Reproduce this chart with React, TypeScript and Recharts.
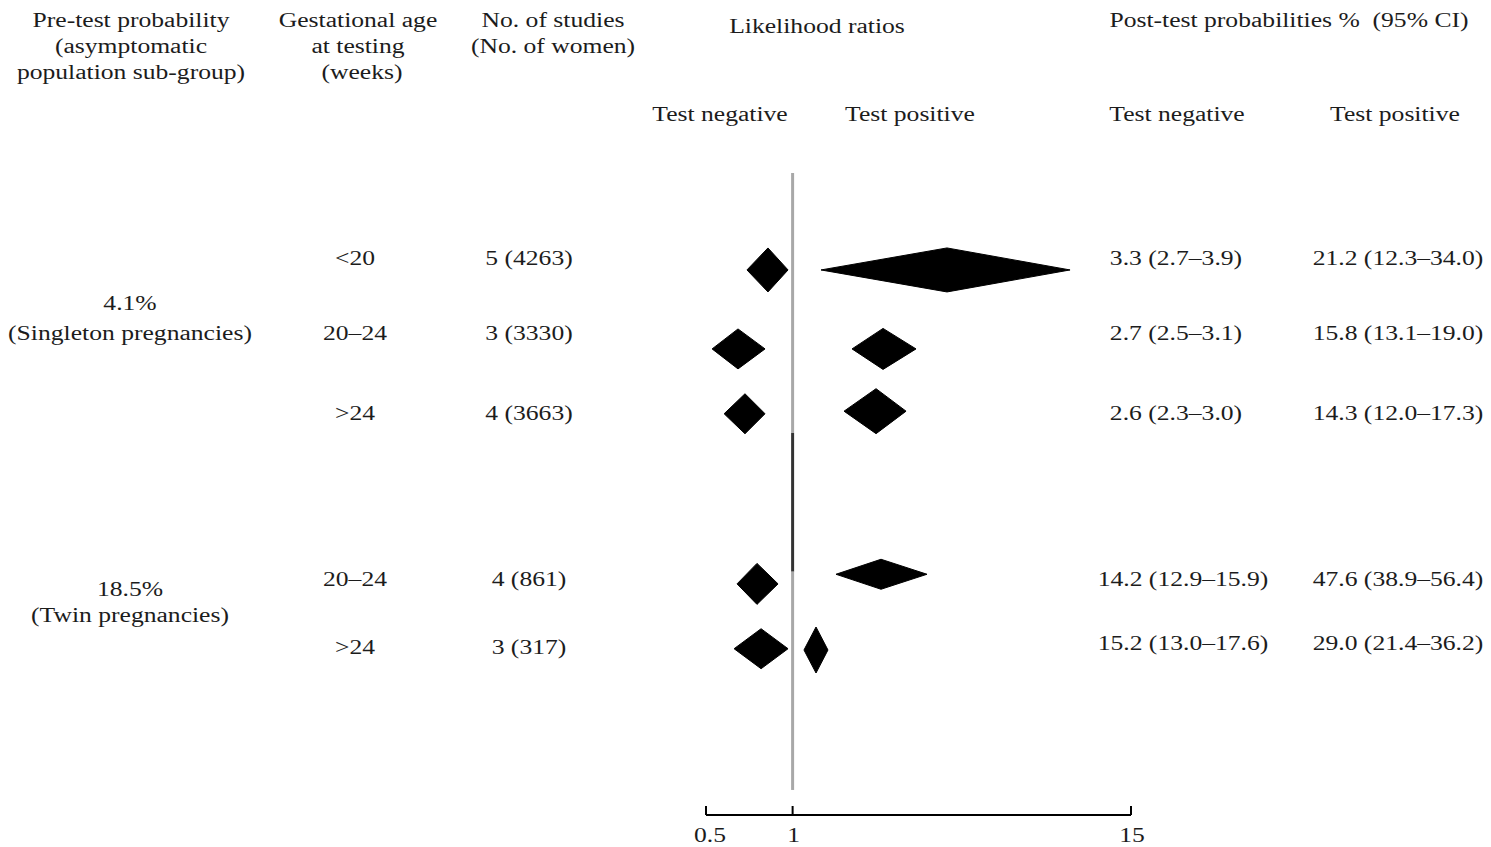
import React from 'react';
import { ScatterChart, Scatter, XAxis, YAxis, ReferenceLine } from 'recharts';

// Table columns
const preTest = ['4.1%', '18.5%'];
const preTestGroup = ['(Singleton pregnancies)', '(Twin pregnancies)'];
const gestAge = ['<20', '20–24', '>24', '20–24', '>24'];
const studies = ['5 (4263)', '3 (3330)', '4 (3663)', '4 (861)', '3 (317)'];
const postNeg = ['3.3 (2.7–3.9)', '2.7 (2.5–3.1)', '2.6 (2.3–3.0)', '14.2 (12.9–15.9)', '15.2 (13.0–17.6)'];
const postPos = ['21.2 (12.3–34.0)', '15.8 (13.1–19.0)', '14.3 (12.0–17.3)', '47.6 (38.9–56.4)', '29.0 (21.4–36.2)'];

// Likelihood ratios (estimate with lower / upper limit), read off the diamonds
const lrNegLow = [0.694, 0.525, 0.578, 0.641, 0.626];
const lrNegEst = [0.821, 0.646, 0.683, 0.752, 0.777];
const lrNegHigh = [0.964, 0.802, 0.802, 0.89, 0.964];
const lrPosLow = [1.255, 1.609, 1.509, 1.415, 1.095];
const lrPosEst = [3.44, 2.062, 1.95, 2.029, 1.206];
const lrPosHigh = [9.21, 2.685, 2.479, 2.932, 1.327];

const axisTicks = [0.5, 1, 15];

// layout: vertical slot of each diamond (0 = top of plot, 100 = axis)
const negSlot = [15.1, 27.4, 37.5, 64.0, 74.1];
const posSlot = [15.1, 27.4, 37.1, 62.5, 74.3];
const negHalfH = [22, 20, 20, 20.5, 20];
const posHalfH = [22, 20.5, 22.5, 15, 23];
const rowTextY = [258, 333, 413, 579, 647];
const postTextY = [258, 333, 413, 579, 643];

const FONT = '"Liberation Serif", "Times New Roman", serif';
const INK = '#1c1c1c';

const diamondLine = (halfH: number) => (props: any) => {
  const pts = props.points;
  if (!pts || pts.length < 3) return <g />;
  const [lo, mid, hi] = pts;
  const d = `M${lo.x},${lo.y} L${mid.x},${mid.y - halfH} L${hi.x},${hi.y} L${mid.x},${mid.y + halfH} Z`;
  return <path d={d} fill="#000" stroke="#000" strokeWidth={1} strokeLinejoin="miter" />;
};

const AxisTick = (props: any) => {
  const { x, y, payload } = props;
  return (
    <g>
      <line x1={x} y1={y - 9} x2={x} y2={y} stroke="#000" strokeWidth={2} />
      <text
        transform={`translate(${x + (payload.value === 0.5 ? 4 : 1)},${y + 27}) scale(1.28,1)`}
        textAnchor="middle"
        fontFamily={FONT}
        fontSize={20}
        fill={INK}
      >
        {payload.value}
      </text>
    </g>
  );
};

const Label = ({ x, y, children, anchor = 'middle' }: { x: number; y: number; children: React.ReactNode; anchor?: string }) => (
  <div
    style={{
      position: 'absolute',
      left: x,
      top: y,
      transform: `translate(${anchor === 'middle' ? '-50%' : '0'}, -50%) scaleX(1.28)`,
      fontFamily: FONT,
      fontSize: 20,
      lineHeight: '26px',
      color: INK,
      whiteSpace: 'nowrap',
      textAlign: 'center',
    }}
  >
    {children}
  </div>
);

const App = () => {
  const diamonds: { data: { lr: number; slot: number }[]; h: number; key: string }[] = [];
  lrNegEst.forEach((_, i) => {
    diamonds.push({
      key: `neg${i}`,
      h: negHalfH[i],
      data: [
        { lr: lrNegLow[i], slot: negSlot[i] },
        { lr: lrNegEst[i], slot: negSlot[i] },
        { lr: lrNegHigh[i], slot: negSlot[i] },
      ],
    });
    diamonds.push({
      key: `pos${i}`,
      h: posHalfH[i],
      data: [
        { lr: lrPosLow[i], slot: posSlot[i] },
        { lr: lrPosEst[i], slot: posSlot[i] },
        { lr: lrPosHigh[i], slot: posSlot[i] },
      ],
    });
  });

  return (
    <div style={{ position: 'absolute', left: 0, top: 0, width: 1491, height: 847, background: '#fff', overflow: 'hidden' }}>
      <ScatterChart width={1491} height={847} margin={{ top: 173, right: 360, bottom: 2, left: 706 }}>
        <XAxis
          dataKey="lr"
          type="number"
          scale="log"
          domain={[0.5, 15]}
          ticks={axisTicks}
          interval={0}
          allowDataOverflow
          height={30}
          tickSize={0}
          tickMargin={0}
          tickLine={false}
          axisLine={{ stroke: '#000', strokeWidth: 2 }}
          tick={<AxisTick />}
        />
        <YAxis dataKey="slot" type="number" domain={[0, 100]} reversed hide />
        <ReferenceLine segment={[{ x: 1, y: 0 }, { x: 1, y: 40.5 }]} stroke="#a8a8a8" strokeWidth={3} />
        <ReferenceLine segment={[{ x: 1, y: 40.5 }, { x: 1, y: 62.1 }]} stroke="#333" strokeWidth={3} />
        <ReferenceLine segment={[{ x: 1, y: 62.1 }, { x: 1, y: 96.1 }]} stroke="#a8a8a8" strokeWidth={3} />
        {diamonds.map((dm) => (
          <Scatter
            key={dm.key}
            data={dm.data}
            shape={() => <g />}
            line={diamondLine(dm.h)}
            lineType="joint"
            fill="#000"
            isAnimationActive={false}
          />
        ))}
      </ScatterChart>

      {/* column headers */}
      <Label x={131} y={20}>Pre-test probability</Label>
      <Label x={131} y={46}>(asymptomatic</Label>
      <Label x={131} y={72}>population sub-group)</Label>
      <Label x={358} y={20}>Gestational age</Label>
      <Label x={358} y={46}>at testing</Label>
      <Label x={362} y={72}>(weeks)</Label>
      <Label x={553} y={20}>No. of studies</Label>
      <Label x={553} y={46}>(No. of women)</Label>
      <Label x={817} y={26}>Likelihood ratios</Label>
      <Label x={1289} y={20}>Post-test probabilities %&nbsp; (95% CI)</Label>
      <Label x={720} y={114}>Test negative</Label>
      <Label x={910} y={114}>Test positive</Label>
      <Label x={1177} y={114}>Test negative</Label>
      <Label x={1395} y={114}>Test positive</Label>

      {/* group labels */}
      <Label x={130} y={303}>{preTest[0]}</Label>
      <Label x={130} y={333}>{preTestGroup[0]}</Label>
      <Label x={130} y={589}>{preTest[1]}</Label>
      <Label x={130} y={615}>{preTestGroup[1]}</Label>

      {gestAge.map((g, i) => (
        <Label key={`g${i}`} x={355} y={rowTextY[i]}>{g}</Label>
      ))}
      {studies.map((s, i) => (
        <Label key={`s${i}`} x={529} y={rowTextY[i]}>{s}</Label>
      ))}
      {postNeg.map((s, i) => (
        <Label key={`pn${i}`} x={i < 3 ? 1176 : 1183} y={postTextY[i]}>{s}</Label>
      ))}
      {postPos.map((s, i) => (
        <Label key={`pp${i}`} x={1398} y={postTextY[i]}>{s}</Label>
      ))}
    </div>
  );
};

export default App;
